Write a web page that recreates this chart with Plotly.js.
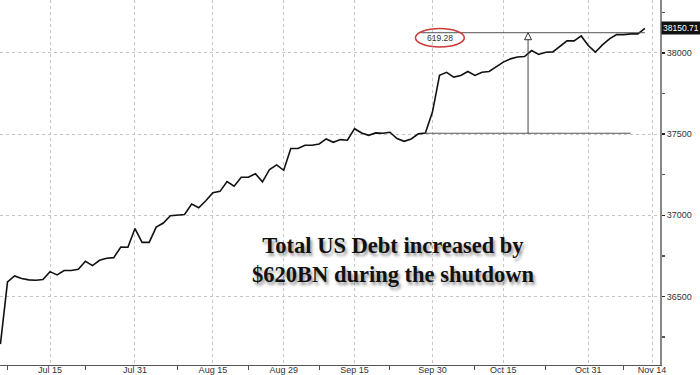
<!DOCTYPE html>
<html>
<head>
<meta charset="utf-8">
<script src="https://cdn.plot.ly/plotly-3.0.1.min.js"></script>
<style>
html,body{margin:0;padding:0;background:#fff;}
#chart{width:700px;height:375px;}
</style>
</head>
<body>
<div id="chart"></div>
<script>
// Business days (Debt to the Penny reporting dates), Jul 3 – Nov 13, 2025
const dates = [
  "2025-07-03","2025-07-07","2025-07-08","2025-07-09","2025-07-10","2025-07-11",
  "2025-07-14","2025-07-15","2025-07-16","2025-07-17","2025-07-18",
  "2025-07-21","2025-07-22","2025-07-23","2025-07-24","2025-07-25",
  "2025-07-28","2025-07-29","2025-07-30","2025-07-31","2025-08-01",
  "2025-08-04","2025-08-05","2025-08-06","2025-08-07","2025-08-08",
  "2025-08-11","2025-08-12","2025-08-13","2025-08-14","2025-08-15",
  "2025-08-18","2025-08-19","2025-08-20","2025-08-21","2025-08-22",
  "2025-08-25","2025-08-26","2025-08-27","2025-08-28","2025-08-29",
  "2025-09-02","2025-09-03","2025-09-04","2025-09-05",
  "2025-09-08","2025-09-09","2025-09-10","2025-09-11","2025-09-12",
  "2025-09-15","2025-09-16","2025-09-17","2025-09-18","2025-09-19",
  "2025-09-22","2025-09-23","2025-09-24","2025-09-25","2025-09-26",
  "2025-09-29","2025-09-30","2025-10-01","2025-10-02","2025-10-03",
  "2025-10-06","2025-10-07","2025-10-08","2025-10-09","2025-10-10",
  "2025-10-14","2025-10-15","2025-10-16","2025-10-17",
  "2025-10-20","2025-10-21","2025-10-22","2025-10-23","2025-10-24",
  "2025-10-27","2025-10-28","2025-10-29","2025-10-30","2025-10-31",
  "2025-11-03","2025-11-04","2025-11-05","2025-11-06","2025-11-07",
  "2025-11-10","2025-11-12","2025-11-13"
];
// Total US debt, $bn
const debt = [
  36207,36590,36626,36610,36602,36600,
  36604,36653,36633,36660,36660,
  36668,36717,36690,36723,36735,
  36739,36804,36803,36918,36833,
  36833,36927,36952,36997,37001,
  37005,37069,37046,37089,37139,
  37147,37208,37179,37234,37234,
  37255,37206,37282,37310,37277,
  37411,37411,37431,37431,
  37439,37470,37449,37466,37462,
  37533,37507,37492,37507,37505,
  37511,37472,37455,37470,37501,
  37507,37635,37862,37880,37851,
  37861,37885,37861,37881,37885,
  37916,37943,37963,37974,
  37977,38014,37990,38004,38006,
  38039,38074,38074,38104,38045,
  38004,38049,38086,38112,38112,
  38117,38117,38150.71
];
const xTickVals = ["2025-07-15","2025-07-31","2025-08-15","2025-08-29","2025-09-15","2025-09-30","2025-10-15","2025-10-31","2025-11-14"];
const xTickText = ["Jul 15","Jul 31","Aug 15","Aug 29","Sep 15","Sep 30","Oct 15","Oct 31","Nov 14"];
const xMinorVals = ["2025-07-07","2025-07-22","2025-08-08","2025-08-22","2025-09-08","2025-09-22","2025-10-08","2025-10-23","2025-11-07"];
const yTickVals = [36500,37000,37500,38000];
const yMinorVals = [36250,36750,37250,37750,38250];
const lastValue = 38150.71;
const increase = 619.28;
const headline = "Total US Debt increased by<br>$620BN during the shutdown";

// full category list (axis extends to Nov 14)
const axisCats = dates.concat(["2025-11-14"]);

const trace = {
  x: dates, y: debt, type: "scatter", mode: "lines",
  line: {color: "#111111", width: 1.6},
  hoverinfo: "skip"
};

const lowIdx = dates.indexOf("2025-09-29");
const endIdx = dates.indexOf("2025-11-10");
const topEnd = dates.indexOf("2025-11-13");
const arrowIdx = dates.indexOf("2025-10-20") + 0.5;
const lowLevel = 37505, highLevel = 38124;

const layout = {
  width: 700, height: 375,
  margin: {l: 0, r: 40, t: 0, b: 10},
  paper_bgcolor: "#ffffff", plot_bgcolor: "#ffffff",
  showlegend: false,
  font: {family: "Liberation Sans, Arial, sans-serif", size: 9, color: "#333"},
  xaxis: {
    type: "category", categoryorder: "array", categoryarray: axisCats,
    range: [-0.06, 93.13], automargin: false,
    tickmode: "array", tickvals: xTickVals, ticktext: xTickText,
    ticks: "", tickfont: {size: 9, color: "#333"}, ticklabelstandoff: -4,
    showgrid: true, gridcolor: "#c4c4c4", griddash: "dot", gridwidth: 1,
    showline: true, linecolor: "#555", linewidth: 1,
    zeroline: false, fixedrange: true,
    minor: {tickmode: "array", tickvals: xMinorVals, ticks: "outside", ticklen: 4, tickcolor: "#555", showgrid: false}
  },
  yaxis: {
    side: "right", range: [36078, 38325.4], automargin: false,
    tickmode: "array", tickvals: yTickVals, ticktext: yTickVals.map(String),
    ticks: "outside", ticklen: 3, tickwidth: 1.5, tickcolor: "#222",
    tickfont: {size: 9, color: "#333"},
    showgrid: true, gridcolor: "#c4c4c4", griddash: "dot", gridwidth: 1,
    showline: true, linecolor: "#888", linewidth: 2,
    zeroline: false, fixedrange: true,
    minor: {tickmode: "array", tickvals: yMinorVals, ticks: "outside", ticklen: 3, tickcolor: "#555", showgrid: false}
  },
  shapes: [
    {type: "line", xref: "x", yref: "y", x0: lowIdx, x1: endIdx, y0: lowLevel, y1: lowLevel,
     line: {color: "#555", width: 1}},
    {type: "line", xref: "x", yref: "y", x0: lowIdx - 0.7, x1: topEnd, y0: highLevel, y1: highLevel,
     line: {color: "#555", width: 1}},
    {type: "line", xref: "x", yref: "y", x0: arrowIdx, x1: arrowIdx, y0: lowLevel, y1: highLevel - 40,
     line: {color: "#444", width: 1}},
    {type: "path", xref: "x", yref: "y", xsizemode: "pixel", ysizemode: "pixel",
     xanchor: arrowIdx, yanchor: highLevel, path: "M0,0 L-3.5,-7 L3.5,-7 Z",
     fillcolor: "#ffffff", line: {color: "#333", width: 1}},
    {type: "circle", xref: "x", yref: "y", x0: lowIdx - 1.4, x1: lowIdx + 5.5, y0: 38036, y1: 38150,
     line: {color: "#cc3a3a", width: 1.5}, fillcolor: "rgba(0,0,0,0)"}
  ],
  annotations: [
    {xref: "x", yref: "y", x: lowIdx + 2.05, y: 38092, text: increase.toFixed(2), showarrow: false,
     font: {size: 8.5, color: "#333", family: "Liberation Sans, Arial, sans-serif"}},
    {xref: "paper", yref: "y", x: 1, xanchor: "left", xshift: 1, y: lastValue,
     text: lastValue.toFixed(2), showarrow: false, bgcolor: "#111", borderpad: 1,
     font: {size: 8.5, color: "#fff", family: "Liberation Sans, Arial, sans-serif"}},
    {xref: "paper", yref: "paper", x: 0.595, y: 0.207, text: headline, showarrow: false,
     align: "center",
     font: {family: "Liberation Serif, Times New Roman, serif", size: 22.5, color: "#111", weight: 700,
            shadow: "2px 3px 3px rgba(0,0,0,0.4)"}}
  ]
};

Plotly.newPlot("chart", [trace], layout, {displayModeBar: false, staticPlot: true});
</script>
</body>
</html>
